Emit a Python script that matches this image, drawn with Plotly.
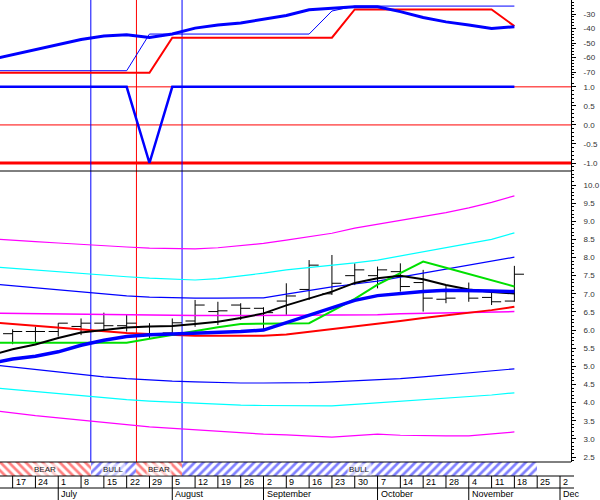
import pandas as pd
import plotly.graph_objects as go

# ---------------- data ----------------
dates = ["2002-06-10", "2002-06-17", "2002-06-24", "2002-07-01", "2002-07-08", "2002-07-15",
         "2002-07-22", "2002-07-29", "2002-08-05", "2002-08-12", "2002-08-19", "2002-08-26",
         "2002-09-02", "2002-09-09", "2002-09-16", "2002-09-23", "2002-09-30", "2002-10-07",
         "2002-10-14", "2002-10-21", "2002-10-28", "2002-11-04", "2002-11-11", "2002-11-18"]

# top panel
osc_fast = [-61.5, -57.9, -54.5, -50.7, -47.6, -45.2, -44.3, -46.1, -43.8, -39.7, -37.6, -36.2,
            -33.7, -31.0, -27.1, -26.1, -25.0, -25.0, -28.3, -32.4, -35.4, -37.6, -39.9, -38.8]
osc_upper = [-69.1] * 7 + [-43.8] * 8 + [-27.9] + [-24.5] * 8
osc_lower = [-70.5] * 8 + [-46.3] * 8 + [-26.8] * 7 + [-38.3]
top_ticks = [-30, -40, -50, -60, -70]
top_labels = ["-30", "-40", "-50", "-60", "-70"]

# middle panel
signal = [1] * 7 + [-1] + [1] * 16
signal_levels = [1.0, 0.0, -1.0]
mid_ticks = [1.0, 0.5, 0.0, -0.5, -1.0]
mid_labels = ["1.0", "0.5", "0.0", "-0.5", "-1.0"]

# bottom panel: weekly OHLC bars (from 2002-06-17)
bar_open = [5.90, 5.96, 5.96, 6.10, 6.19, 6.12, 6.10, 5.92, 6.25, 6.51, 6.69, 6.60,
            6.80, 7.12, 7.00, 7.50, 7.50, 7.61, 7.31, 6.85, 7.10, 6.90, 6.80]
bar_high = [6.02, 6.09, 6.19, 6.32, 6.48, 6.42, 6.19, 6.32, 6.83, 6.78, 6.74, 6.63,
            7.29, 7.93, 8.07, 7.84, 7.75, 7.84, 7.66, 7.24, 7.31, 7.10, 7.77]
bar_low = [5.61, 5.64, 5.82, 5.86, 5.96, 5.96, 5.77, 5.91, 6.09, 6.14, 6.28, 6.02,
           6.42, 6.83, 6.97, 7.24, 7.15, 7.06, 6.51, 6.74, 6.78, 6.69, 6.78]
bar_close = [5.96, 5.96, 6.19, 6.19, 6.12, 6.19, 5.85, 6.20, 6.69, 6.53, 6.60, 6.48,
             6.94, 7.79, 7.29, 7.66, 7.66, 7.20, 6.88, 6.88, 6.88, 6.78, 7.54]

ma_blue = [5.08, 5.20, 5.28, 5.40, 5.58, 5.72, 5.82, 5.87, 5.89, 5.91, 5.93, 5.96,
           6.00, 6.20, 6.42, 6.62, 6.82, 6.95, 7.01, 7.06, 7.10, 7.10, 7.08, 7.06]
ma_black = [5.30, 5.47, 5.60, 5.78, 5.93, 6.01, 6.07, 6.10, 6.11, 6.17, 6.23, 6.33,
            6.46, 6.68, 6.86, 7.06, 7.30, 7.43, 7.50, 7.40, 7.24, 7.12, 7.05, 7.01]
ma_green = [5.65, 5.65, 5.65, 5.65, 5.65, 5.65, 5.65, 5.76, 5.87, 5.97, 6.08, 6.17,
            6.18, 6.19, 6.19, 6.52, 6.86, 7.25, 7.57, 7.89, 7.72, 7.54, 7.37, 7.20]
ma_red = [6.22, 6.17, 6.11, 6.06, 6.00, 5.96, 5.92, 5.89, 5.86, 5.84, 5.84, 5.84,
          5.84, 5.88, 5.95, 6.03, 6.10, 6.18, 6.25, 6.33, 6.40, 6.48, 6.55, 6.64]
ma_long = [6.47, 6.46, 6.46, 6.45, 6.44, 6.43, 6.42, 6.42, 6.41, 6.40, 6.40, 6.40,
           6.40, 6.40, 6.40, 6.40, 6.41, 6.42, 6.45, 6.46, 6.47, 6.48, 6.49, 6.51]

band3_up = [8.52, 8.47, 8.44, 8.40, 8.36, 8.32, 8.29, 8.26, 8.25, 8.24, 8.27, 8.32,
            8.39, 8.48, 8.58, 8.67, 8.81, 8.92, 9.02, 9.12, 9.24, 9.37, 9.52, 9.70]
band2_up = [7.75, 7.70, 7.66, 7.62, 7.57, 7.52, 7.47, 7.43, 7.40, 7.38, 7.42, 7.49,
            7.57, 7.66, 7.72, 7.77, 7.85, 7.93, 8.04, 8.15, 8.26, 8.37, 8.50, 8.68]
band1_up = [7.28, 7.22, 7.16, 7.10, 7.04, 6.99, 6.94, 6.91, 6.89, 6.88, 6.88, 6.88,
            6.89, 6.99, 7.10, 7.19, 7.27, 7.35, 7.46, 7.57, 7.67, 7.77, 7.88, 8.01]
band1_lo = [5.05, 4.98, 4.91, 4.84, 4.77, 4.71, 4.66, 4.62, 4.59, 4.57, 4.55, 4.54,
            4.54, 4.54, 4.55, 4.57, 4.60, 4.62, 4.66, 4.71, 4.76, 4.82, 4.88, 4.93]
band2_lo = [4.42, 4.36, 4.30, 4.24, 4.18, 4.13, 4.08, 4.04, 4.01, 3.99, 3.96, 3.93,
            3.92, 3.91, 3.91, 3.91, 3.95, 3.99, 4.03, 4.07, 4.11, 4.15, 4.21, 4.27]
band3_lo = [3.79, 3.71, 3.64, 3.58, 3.51, 3.44, 3.39, 3.33, 3.29, 3.25, 3.20, 3.16,
            3.13, 3.11, 3.08, 3.05, 3.09, 3.13, 3.10, 3.08, 3.08, 3.08, 3.13, 3.19]

# regime strip
regime_labels = ["BEAR", "BULL", "BEAR", "BULL"]
regime_start = ["2002-06-10", "2002-07-11", "2002-07-25", "2002-08-08"]
regime_end = ["2002-07-11", "2002-07-25", "2002-08-08", "2002-11-25"]
signal_dates = ["2002-07-11", "2002-07-25", "2002-08-08"]
signal_colors = ["#0000ff", "#ff0000", "#0000ff"]

# date axis
week_ticks = ["2002-06-17", "2002-06-24", "2002-07-01", "2002-07-08", "2002-07-15", "2002-07-22",
              "2002-07-29", "2002-08-05", "2002-08-12", "2002-08-19", "2002-08-26", "2002-09-02",
              "2002-09-09", "2002-09-16", "2002-09-23", "2002-09-30", "2002-10-07", "2002-10-14",
              "2002-10-21", "2002-10-28", "2002-11-04", "2002-11-11", "2002-11-18", "2002-11-25",
              "2002-12-02"]
month_ticks = ["2002-07-01", "2002-08-05", "2002-09-02", "2002-10-07", "2002-11-04", "2002-12-02"]
month_labels = ["July", "August", "September", "October", "November", "Dec"]

x_range = ["2002-06-13 03:00", "2002-12-05 09:00"]

# ---------------- figure ----------------
BLUE, RED, MAG, CYAN, GREEN = "#0000ff", "#ff0000", "#ff00ff", "#00ffff", "#00e000"
FONT = "Liberation Sans Narrow, Liberation Sans, Arial"
fig = go.Figure()


def line(y, color, width, axis, xs=dates):
    fig.add_trace(go.Scatter(x=xs, y=y, mode="lines", line=dict(color=color, width=width),
                             yaxis=axis, xaxis="x", showlegend=False, hoverinfo="skip"))


# top panel
line(osc_upper, BLUE, 1, "y")
line(osc_lower, RED, 2, "y")
line(osc_fast, BLUE, 3, "y")

# middle panel
line(signal, BLUE, 2.5, "y2")

# bottom panel
fig.add_trace(go.Ohlc(x=dates[1:], open=bar_open, high=bar_high, low=bar_low, close=bar_close,
                      increasing=dict(line=dict(color="black", width=1)),
                      decreasing=dict(line=dict(color="black", width=1)),
                      tickwidth=0.42, yaxis="y3", xaxis="x", showlegend=False, hoverinfo="skip"))
for b, c in [(band3_up, MAG), (band2_up, CYAN), (band1_up, BLUE),
             (band1_lo, BLUE), (band2_lo, CYAN), (band3_lo, MAG)]:
    line(b, c, 1.2, "y3")
line(ma_long, MAG, 1.5, "y3")
line(ma_red, RED, 2, "y3")
line(ma_green, GREEN, 2, "y3")
line(ma_black, "black", 2, "y3")
line(ma_blue, BLUE, 3.5, "y3")

# regime strip (hatched bars)
starts = pd.to_datetime(regime_start)
ends = pd.to_datetime(regime_end)
dur = [(e - s).total_seconds() * 1000 for s, e in zip(starts, ends)]
shapes_pat = ["\\" if r == "BEAR" else "/" for r in regime_labels]
fg = [RED if r == "BEAR" else BLUE for r in regime_labels]
fig.add_trace(go.Bar(x=dur, base=regime_start, y=[0] * len(dur), orientation="h", width=1,
                     yaxis="y4", xaxis="x", showlegend=False, hoverinfo="skip",
                     marker=dict(color="white", line=dict(width=0),
                                 pattern=dict(shape=shapes_pat, fgcolor=fg, bgcolor="white",
                                              size=6, solidity=0.45))))

tick_font = dict(family=FONT, size=8, color="#333333")
common_y = dict(side="right", anchor="x", showline=True, linecolor="black", linewidth=1,
                ticks="outside", ticklen=4, tickcolor="black", showgrid=False, zeroline=False,
                tickfont=tick_font, automargin=False, ticklabelstandoff=6)

fig.update_layout(
    width=600, height=500, margin=dict(l=0, r=0, t=0, b=0, autoexpand=False),
    paper_bgcolor="white", plot_bgcolor="white", bargap=0,
    xaxis=dict(domain=[0, 571 / 600], range=x_range, type="date", showgrid=False,
               zeroline=False, showticklabels=False, ticks="", showline=False, anchor="y3",
               rangeslider=dict(visible=False), automargin=False),
    yaxis=dict(domain=[1 - 80 / 500, 1], range=[-75.5, -20.3], tickvals=top_ticks,
               ticktext=top_labels,
               minor=dict(dtick=2, ticks="outside", ticklen=2, tickcolor="black"), **common_y),
    yaxis2=dict(domain=[1 - 171 / 500, 1 - 80 / 500], range=[-1.21, 1.18], tickvals=mid_ticks,
                ticktext=mid_labels,
                minor=dict(dtick=0.1, ticks="outside", ticklen=2, tickcolor="black"), **common_y),
    yaxis3=dict(domain=[1 - 462 / 500, 1 - 171 / 500], range=[2.362, 10.386], dtick=0.5,
                tickformat=".1f",
                minor=dict(dtick=0.1, ticks="outside", ticklen=2, tickcolor="black"), **common_y),
    yaxis4=dict(domain=[1 - 476 / 500, 1 - 462 / 500], range=[-0.5, 0.5], visible=False,
                anchor="x"),
)

shapes = []
# reference levels in the middle panel
for lvl, w in zip(signal_levels, [1, 1, 3]):
    shapes.append(dict(type="line", xref="x domain", x0=0, x1=1, yref="y2", y0=lvl, y1=lvl,
                       line=dict(color=RED, width=w), layer="below"))
# separators
for yp in [1 - 171 / 500, 1 - 462 / 500]:
    shapes.append(dict(type="line", xref="x domain", x0=0, x1=1, yref="paper", y0=yp, y1=yp,
                       line=dict(color="black", width=1)))
for yp in [1 - 476 / 500, 1 - 488 / 500]:
    shapes.append(dict(type="line", xref="paper", x0=0, x1=574 / 600, yref="paper", y0=yp, y1=yp,
                       line=dict(color="black", width=1)))
# signal lines
for d, c in zip(signal_dates, signal_colors):
    shapes.append(dict(type="line", xref="x", x0=d, x1=d, yref="paper", y0=1 - 462 / 500, y1=1,
                       line=dict(color=c, width=1), layer="below"))
# date separators
for d in week_ticks:
    y0 = 0 if d in month_ticks else 1 - 488 / 500
    shapes.append(dict(type="line", xref="x", x0=d, x1=d, yref="paper", y0=y0, y1=1 - 476 / 500,
                       line=dict(color="black", width=1)))
fig.update_layout(shapes=shapes)

ann = []
small = dict(family=FONT, size=9, color="black")
for d in week_ticks:
    ann.append(dict(x=d, y=1 - 482 / 500, xref="x", yref="paper", text=str(pd.Timestamp(d).day),
                    showarrow=False, xanchor="left", yanchor="middle", xshift=1, font=small))
for d, t in zip(month_ticks, month_labels):
    ann.append(dict(x=d, y=1 - 494 / 500, xref="x", yref="paper", text=t, showarrow=False,
                    xanchor="left", yanchor="middle", xshift=1, font=small))
rs = pd.Timestamp(x_range[0])
for s, e, t in zip(starts, ends, regime_labels):
    mid = max(s, rs) + (e - max(s, rs)) / 2
    ann.append(dict(x=mid, y=1 - 469 / 500, xref="x", yref="paper", text=t, showarrow=False,
                    xanchor="center", yanchor="middle",
                    font=dict(family=FONT, size=8, color="#222222"),
                    bgcolor="rgba(255,255,255,0.6)"))
fig.update_layout(annotations=ann)

fig.write_html("out.html", config={"displayModeBar": False},
               post_script="document.body.style.margin='0';document.body.style.padding='0';")
